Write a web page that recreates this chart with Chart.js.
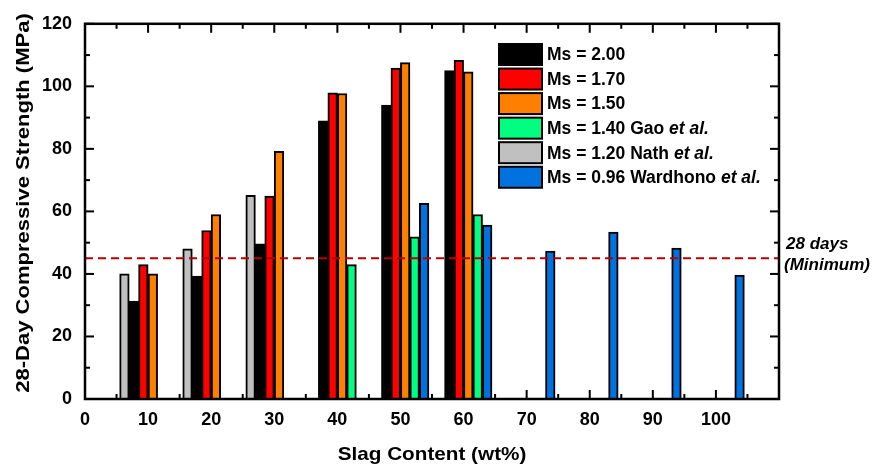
<!DOCTYPE html>
<html>
<head>
<meta charset="utf-8">
<script src="https://cdn.jsdelivr.net/npm/chart.js@4.4.1/dist/chart.umd.min.js"></script>
<style>
  html, body { margin: 0; padding: 0; background: #fff; }
  #chart { display: block; }
</style>
</head>
<body>
<canvas id="chart" width="872" height="468"></canvas>
<script>
"use strict";

// slag content (wt%) and 28-day strength (MPa) for each Ms series
var slagMs200 = [10, 20, 30, 40, 50, 60];
var strengthMs200 = [31.3, 39.3, 49.6, 89.0, 94.0, 105.0];

var slagMs170 = [10, 20, 30, 40, 50, 60];
var strengthMs170 = [43.0, 53.9, 64.9, 97.9, 105.8, 108.3];

var slagMs150 = [10, 20, 30, 40, 50, 60];
var strengthMs150 = [40.0, 59.0, 79.2, 97.7, 107.6, 104.6];

var slagGao = [40, 50, 60];
var strengthGao = [43.0, 51.9, 59.0];

var slagNath = [10, 20, 30];
var strengthNath = [40.0, 48.0, 65.1];

var slagWardhono = [50, 60, 70, 80, 90, 100];
var strengthWardhono = [62.6, 55.6, 47.3, 53.4, 48.3, 39.6];

var seriesLabels = ["Ms = 2.00", "Ms = 1.70", "Ms = 1.50", "Ms = 1.40 Gao", "Ms = 1.20 Nath", "Ms = 0.96 Wardhono"];
var seriesEtAl = [false, false, false, true, true, true];

var xTickLabels = [0, 10, 20, 30, 40, 50, 60, 70, 80, 90, 100];
var xMarks = [0, 5, 10, 15, 20, 25, 30, 35, 40, 45, 50, 55, 60, 65, 70, 75, 80, 85, 90, 95, 100, 105, 110];
var yMarks = [0, 10, 20, 30, 40, 50, 60, 70, 80, 90, 100, 110, 120];
var minimumStrength = 45; // 28 days minimum

var FONT = "'Liberation Sans', Arial, sans-serif";

// style: colour and sideways shift (in wt%) of each series inside a group
var seriesStyle = [
  { color: "#000000", shift: -2.25 },
  { color: "#ff0000", shift: -0.75 },
  { color: "#ff8000", shift: 0.75 },
  { color: "#00ff80", shift: 2.25 },
  { color: "#c0c0c0", shift: -3.75 },
  { color: "#0072e0", shift: 3.75 }
];

function makePoints(xs, ys, shift) {
  var out = [];
  for (var i = 0; i < xs.length; i++) {
    out.push({ x: xs[i] + shift, y: ys[i] });
  }
  return out;
}

var allSlag = [slagMs200, slagMs170, slagMs150, slagGao, slagNath, slagWardhono];
var allStrength = [strengthMs200, strengthMs170, strengthMs150, strengthGao, strengthNath, strengthWardhono];

var datasets = [];
for (var s = 0; s < allSlag.length; s++) {
  datasets.push({
    label: seriesLabels[s],
    data: makePoints(allSlag[s], allStrength[s], seriesStyle[s].shift),
    backgroundColor: seriesStyle[s].color,
    borderColor: "#000",
    borderWidth: 2,
    barThickness: 9.6,
    grouped: false
  });
}

// inward ticks on all four sides (under the bars), frame on top
var frameTicks = {
  id: "frameTicks",
  beforeDatasetsDraw: function (chart) {
    var ctx = chart.ctx, a = chart.chartArea;
    var xs = chart.scales.x, ys = chart.scales.y;
    ctx.save();
    ctx.fillStyle = "#000";
    xMarks.forEach(function (v) {
      var p = xs.getPixelForValue(v);
      var len = v % 10 === 0 ? 9 : 5;
      ctx.fillRect(p - 1, a.bottom - len, 2, len);
      ctx.fillRect(p - 1, a.top, 2, len);
    });
    yMarks.forEach(function (v) {
      var p = ys.getPixelForValue(v);
      var len = v % 20 === 0 ? 9 : 5;
      ctx.fillRect(a.left, p - 1, len, 2);
      ctx.fillRect(a.right - len, p - 1, len, 2);
    });
    ctx.restore();
  },
  afterDraw: function (chart) {
    var ctx = chart.ctx, a = chart.chartArea;
    ctx.save();
    ctx.strokeStyle = "#000";
    ctx.lineWidth = 2.5;
    ctx.strokeRect(a.left, a.top, a.right - a.left, a.bottom - a.top);
    ctx.restore();
  }
};

// dashed minimum line + its note
var minLine = {
  id: "minLine",
  afterDatasetsDraw: function (chart) {
    var ctx = chart.ctx, a = chart.chartArea;
    var py = chart.scales.y.getPixelForValue(minimumStrength);
    ctx.save();
    ctx.strokeStyle = "#b80000";
    ctx.lineWidth = 2;
    ctx.setLineDash([8, 5]);
    ctx.beginPath();
    ctx.moveTo(a.left, py);
    ctx.lineTo(a.right, py);
    ctx.stroke();
    ctx.setLineDash([]);
    ctx.fillStyle = "#000";
    ctx.font = "italic bold 17px " + FONT;
    ctx.textAlign = "left";
    ctx.textBaseline = "alphabetic";
    ctx.fillText("28 days", a.right + 7, py - 9);
    ctx.fillText("(Minimum)", a.right + 5, py + 11.5);
    ctx.restore();
  }
};

// axis titles, slightly stretched like the original
var axisTitles = {
  id: "axisTitles",
  afterDraw: function (chart) {
    var ctx = chart.ctx, a = chart.chartArea;
    ctx.save();
    ctx.fillStyle = "#000";
    ctx.font = "bold 19px " + FONT;
    ctx.textAlign = "center";
    ctx.textBaseline = "alphabetic";

    ctx.save();
    ctx.translate((a.left + a.right) / 2, 460);
    ctx.scale(1.09, 1);
    ctx.fillText("Slag Content (wt%)", 0, 0);
    ctx.restore();

    ctx.save();
    ctx.translate(29, 203);
    ctx.rotate(-Math.PI / 2);
    ctx.scale(1.16, 1);
    ctx.fillText("28-Day Compressive Strength (MPa)", 0, 0);
    ctx.restore();

    ctx.restore();
  }
};

// legend box with italic "et al."
var boxLegend = {
  id: "boxLegend",
  afterDraw: function (chart) {
    var ctx = chart.ctx;
    var x0 = 499, y0 = 44, pitch = 24.55, bw = 43, bh = 21;
    ctx.save();
    ctx.textBaseline = "middle";
    ctx.textAlign = "left";
    chart.data.datasets.forEach(function (ds, i) {
      var y = y0 + i * pitch;
      ctx.fillStyle = ds.backgroundColor;
      ctx.fillRect(x0, y, bw, bh);
      ctx.strokeStyle = "#000";
      ctx.lineWidth = 2;
      ctx.strokeRect(x0, y, bw, bh);
      ctx.fillStyle = "#000";
      ctx.font = "bold 17.5px " + FONT;
      var tx = x0 + bw + 5;
      ctx.fillText(ds.label, tx, y + bh / 2 + 1);
      if (seriesEtAl[i]) {
        var w = ctx.measureText(ds.label + " ").width;
        ctx.font = "italic bold 17.5px " + FONT;
        ctx.fillText("et al.", tx + w, y + bh / 2 + 1);
      }
    });
    ctx.restore();
  }
};

var tickFont = { family: FONT, size: 18, weight: "bold" };

new Chart(document.getElementById("chart"), {
  type: "bar",
  data: { datasets: datasets },
  options: {
    responsive: false,
    animation: false,
    layout: { padding: { top: 23, right: 93, left: 0, bottom: 0 } },
    plugins: { legend: { display: false }, tooltip: { enabled: false } },
    scales: {
      x: {
        type: "linear",
        min: 0,
        max: 110,
        offset: false,
        afterFit: function (sc) { sc.height = 69; },
        grid: { display: false, drawTicks: false },
        border: { display: false },
        ticks: {
          stepSize: 10,
          padding: 10,
          color: "#000",
          font: tickFont,
          maxRotation: 0,
          autoSkip: false,
          callback: function (v) { return xTickLabels.indexOf(v) >= 0 ? String(v) : ""; }
        }
      },
      y: {
        min: 0,
        max: 120,
        afterFit: function (sc) { sc.width = 85; },
        grid: { display: false, drawTicks: false },
        border: { display: false },
        ticks: { stepSize: 20, padding: 13, color: "#000", font: tickFont }
      }
    }
  },
  plugins: [minLine, frameTicks, axisTitles, boxLegend]
});
</script>
</body>
</html>
